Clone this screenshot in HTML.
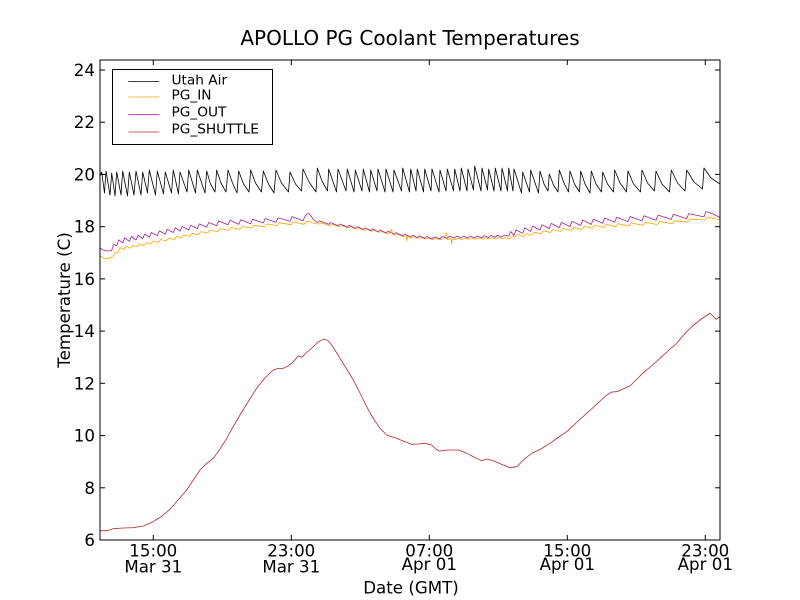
<!DOCTYPE html>
<html>
<head>
<meta charset="utf-8">
<style>
html,body{margin:0;padding:0;background:#fff;}
svg{display:block;}
text{font-family:"DejaVu Sans","Liberation Sans",sans-serif;fill:#000;}
</style>
</head>
<body>
<svg width="800" height="600" viewBox="0 0 800 600" xmlns="http://www.w3.org/2000/svg">
<rect x="0" y="0" width="800" height="600" fill="#fff"/>
<defs>
<clipPath id="ax"><rect x="100" y="60" width="620" height="480"/></clipPath>
</defs>

<g clip-path="url(#ax)" fill="none" stroke-linejoin="round">
<!-- Utah Air -->
<polyline stroke="#000" stroke-width="0.8" points="100,176 101.7,172 104.5,193 106,171 110,195 111.7,173 115,196 116.7,172 121,195 122.7,171 127.5,196 129.3,172 134,195 136,171 141,195 142.7,172 147.5,193 149.3,170 155.5,195 157.3,171 163.5,194 165.3,172 171.5,193 173.3,170 178.5,194 180,172 187,192 188.7,170 195.5,193 197.3,170 205,193 206.7,171 210.5,184 215,192 216.7,170 221,183 226,192 228,170 232.5,183 237,193 238.7,171 243.5,184 249,192 250.7,170 255.5,183 261.5,192 263.3,171 268.5,184 274,193 276,170 281.5,183 288.5,192 290,172 295.5,184 301.5,191 303,169 309,182 316,192 317.3,168 322,181 327.5,191 328.7,169 336.5,192 338,169 346,191 347.3,169 354,192 355.3,170 362,191 363.3,169 369.5,192 370.7,170 377,191 378,169 385,192 386,169 393,192 394,170 401.5,191 402.7,168 409.5,192 410.7,169 416,191 417.3,169 423.5,192 424.7,169 431,191 432,169 439,192 440,170 446,191 447.3,169 453.5,191 454.7,169 460,191 461.3,168 467,191 468,169 473.5,190 474.7,166 481,191 482,168 487.5,190 488.7,169 494,191 495.3,168 501,191 502,168 507.5,191 508.7,168 513,191 514,169 521.5,193 522.7,172 529.5,192 530.7,170 538.5,193 540,171 544,184 548,191 549.3,174 553.5,185 558,192 559.3,170 564,183 568.5,192 570,171 574.5,184 579.5,192 580.7,171 585,184 590,193 591.3,171 596,184 601.5,192 602.7,172 607.5,184 613.5,192 614.7,170 620,183 626.5,192 628,171 633.5,184 640.5,192 642,170 647.5,183 654.5,191 656,171 662,184 669.5,192 671.3,170 677.5,183 685,191 686.7,170 694,182 702.5,189 704,168 711,178 720,184"/>
<!-- PG_IN -->
<polyline stroke="#ffa500" stroke-width="0.8" points="100,256 104,258 108,259 111,257 112.7,257.5 115.2,252.6 117.7,252.8 120.2,247.7 123.7,249.6 126.2,246.5 130.3,248.2 132.8,245.2 137,246.9 139.5,243.8 143.7,245.6 146.2,242.5 150.3,244.2 152.8,241.2 158.3,242.6 160.8,239.5 166.3,241 168.8,238 174.3,239.5 176.8,236.3 181,238.1 183.5,235 189.7,236.4 192.2,233.3 198.3,234.7 200.8,231.6 207.7,233 210.2,230.2 217.7,231.6 220.2,228.7 229,230.4 231.5,227.5 239.7,229.3 242.2,226.5 251.7,228.1 254.2,225.3 264.3,226.9 266.8,224 277,225.6 279.5,222.7 291,224.8 293.5,222 304,224.3 306.5,221.7 310,221.5 313,223 318.3,224.1 320.8,222.9 329.7,225.5 332.2,224.3 339,226.6 341.5,225.5 348.3,227.9 350.8,226.8 356.3,229 358.8,228 364.3,230.2 366.8,229.2 371.7,231.4 374.2,230.3 379,232.4 381.5,231.5 387,233.7 389.5,232.8 391.7,229.5 392.5,233.5 395,235.2 397.5,234.2 403.7,236.6 406.2,235.6 406.8,241 407.5,236.5 411.7,237.8 414.2,236.7 418.3,238.3 420.8,237.4 425.7,239 428.2,238.1 433,239.7 435.5,238.4 441,239.7 443.5,238.3 446.7,233 447.2,239 448.3,239.7 450.8,238.3 451.7,244 452.3,239.2 455.7,239.6 458.2,238.3 462.3,239.5 464.8,238.2 469,239.3 471.5,238 475.7,239.2 478.2,237.9 483,239.1 485.5,237.8 489.7,239 492.2,237.7 496.3,238.9 498.8,237.6 503,238.8 505.5,237.5 509.7,239 512.2,236 515,237.5 517.5,234.3 523.7,236.6 526.2,233.5 531.7,235.3 534.2,232.3 541,233.8 543.5,230.8 550.3,232.5 552.8,229.5 560.3,231.4 562.8,228.4 571,230.4 573.5,227.4 581.7,229.4 584.2,226.4 592.3,228.3 594.8,225.4 603.7,227.4 606.2,224.4 615.7,226.7 618.2,223.7 629,226 631.5,223 643,225.3 645.5,222.3 657,224.5 659.5,221.5 672.3,223.7 674.8,220.7 687.7,222.2 690.2,219.3 705,220 707.5,217 714,218.5 720,219.5"/>
<!-- PG_OUT -->
<polyline stroke="#a020a0" stroke-width="0.8" points="100,248 103,250 107,251 111.7,250.5 113.7,244.1 116.7,245.8 118.7,239.8 122.7,242.8 124.7,237.9 129.3,241.3 131.3,236.5 136,240 138,235.2 142.7,238.7 144.7,233.9 149.3,237.3 151.3,232.5 157.3,235.7 159.3,230.9 165.3,234.1 167.3,229.3 173.3,232.5 175.3,227.7 180,231.2 182,226.5 188.7,229.9 190.7,225.2 197.3,228.6 199.3,223.9 206.7,227.2 208.7,222.5 216.7,225.7 218.7,221 228,224.8 230,220.3 238.7,224.3 240.7,219.8 250.7,223.7 252.7,219.2 263.3,223 265.3,218.5 276,222.4 278,217.9 290,221.2 292,216.6 303,220.7 305,216.6 307,214 309,213.5 311,216 313,219 317.3,222.5 319.3,220.9 328.7,224.3 330.7,222.6 338,225.7 340,224 347.3,227.1 349.3,225.4 355.3,228.3 357.3,226.6 363.3,229.5 365.3,227.8 370.7,230.6 372.7,228.9 378,231.7 380,230 386,232.9 388,231.2 394,234.2 396,232.6 402.7,235.7 404.7,234 410.7,237 412.7,235.2 417.3,237.6 419.3,235.8 424.7,238.3 426.7,236.5 432,239 434,237 440,238.7 442,236.6 447.3,238.3 449.3,236.2 454.7,238 456.7,236 461.3,238 463.3,236 468,238 470,236 474.7,238 476.7,236 482,237.8 484,235.8 488.7,237.5 490.7,235.5 495.3,237.3 497.3,235.3 502,237.1 504,235.1 508.7,236 510.7,231.5 514,235.5 516,230 522.7,233.3 524.7,227.8 530.7,231.4 532.7,226.1 540,230 542,224.7 549.3,228.6 551.3,223.4 559.3,227.6 561.3,222.4 570,226.5 572,221.3 580.7,225.4 582.7,220.2 591.3,224.4 593.3,219.2 602.7,223.2 604.7,218 614.7,222.3 616.7,217.2 628,221.6 630,216.5 642,220.9 644,215.8 656,220.2 658,215.1 671.3,219.4 673.3,214.3 686.7,218.7 688.7,213.6 704,216.9 706,211.6 712,213.5 720,217.5"/>
<!-- PG_SHUTTLE -->
<polyline stroke="#b22a2a" stroke-width="0.8" points="100,530.7 106.7,530.7 113.3,528.7 123.3,528 133.3,527.7 143.3,526 153.3,521.7 162,516 170,509.3 178,500 186.7,490 193,480.5 200,470 206,464 213.3,458.3 220,449 226.7,438.3 233,427 240,415 248,402 256.7,388.3 265,378 273.3,370 278,368.5 283.3,368.3 288,366 293.3,361.7 298.3,356 301.7,357.3 306,353 313,347 318,342 323.3,339.3 327,340 330,342.7 335,350 340,358.3 346,368 353.3,380 360,393 366.7,406.7 373,418 380,428.3 386.7,435 391,436.5 396.7,438.3 403,441 411.7,444.3 418,444 425,443.3 431.7,445 436,449 439.3,451 448,450 458.3,450 466.7,453.3 474,457 481.7,460.7 486.7,459 493.3,460.7 502,464.5 510,467.7 516.7,466.7 524,459.5 531.7,453.3 540,449.5 550,443.3 558,437.5 566.7,431.7 577,422 586.7,413.3 597,404 606.7,395 612,392 616.7,391.7 623,389 630,386 637,379 643.3,372.7 652,365.5 660,358.3 668,351 676.7,343.3 682,337 686.7,331.7 693,325.5 700,320 705,316.5 710,313.3 713,316 716,319.3 718,318 720,316.7"/>
</g>

<!-- axes frame -->
<rect x="100" y="60" width="620" height="480" fill="none" stroke="#000" stroke-width="1"/>

<!-- ticks -->
<g stroke="#000" stroke-width="1">
<line x1="153.3" y1="540" x2="153.3" y2="535"/><line x1="153.3" y1="60" x2="153.3" y2="65"/>
<line x1="291.3" y1="540" x2="291.3" y2="535"/><line x1="291.3" y1="60" x2="291.3" y2="65"/>
<line x1="429.3" y1="540" x2="429.3" y2="535"/><line x1="429.3" y1="60" x2="429.3" y2="65"/>
<line x1="567.3" y1="540" x2="567.3" y2="535"/><line x1="567.3" y1="60" x2="567.3" y2="65"/>
<line x1="705.3" y1="540" x2="705.3" y2="535"/><line x1="705.3" y1="60" x2="705.3" y2="65"/>

<line x1="100" y1="487.8" x2="105" y2="487.8"/><line x1="720" y1="487.8" x2="715" y2="487.8"/>
<line x1="100" y1="435.6" x2="105" y2="435.6"/><line x1="720" y1="435.6" x2="715" y2="435.6"/>
<line x1="100" y1="383.3" x2="105" y2="383.3"/><line x1="720" y1="383.3" x2="715" y2="383.3"/>
<line x1="100" y1="331.1" x2="105" y2="331.1"/><line x1="720" y1="331.1" x2="715" y2="331.1"/>
<line x1="100" y1="278.9" x2="105" y2="278.9"/><line x1="720" y1="278.9" x2="715" y2="278.9"/>
<line x1="100" y1="226.7" x2="105" y2="226.7"/><line x1="720" y1="226.7" x2="715" y2="226.7"/>
<line x1="100" y1="174.4" x2="105" y2="174.4"/><line x1="720" y1="174.4" x2="715" y2="174.4"/>
<line x1="100" y1="122.2" x2="105" y2="122.2"/><line x1="720" y1="122.2" x2="715" y2="122.2"/>
<line x1="100" y1="70" x2="105" y2="70"/><line x1="720" y1="70" x2="715" y2="70"/>
</g>

<!-- y tick labels -->
<g font-size="16.67" text-anchor="end">
<text x="95" y="546">6</text>
<text x="95" y="493.8">8</text>
<text x="95" y="441.6">10</text>
<text x="95" y="389.3">12</text>
<text x="95" y="337.1">14</text>
<text x="95" y="284.9">16</text>
<text x="95" y="232.7">18</text>
<text x="95" y="180.4">20</text>
<text x="95" y="128.2">22</text>
<text x="95" y="76">24</text>
</g>

<!-- x tick labels -->
<g font-size="16.67" text-anchor="middle">
<text x="153.3" y="556.5">15:00</text><text x="153.3" y="572.5">Mar 31</text>
<text x="291.3" y="556.5">23:00</text><text x="291.3" y="572.5">Mar 31</text>
<text x="429.3" y="556.5">07:00</text><text x="429.3" y="570">Apr 01</text>
<text x="567.3" y="556.5">15:00</text><text x="567.3" y="570">Apr 01</text>
<text x="705.3" y="556.5">23:00</text><text x="705.3" y="570">Apr 01</text>
</g>

<!-- axis labels & title -->
<text x="411" y="593.3" font-size="16.67" text-anchor="middle">Date (GMT)</text>
<text transform="translate(70,300) rotate(-90)" font-size="16.67" text-anchor="middle">Temperature (C)</text>
<text x="410" y="45" font-size="20" text-anchor="middle">APOLLO PG Coolant Temperatures</text>

<!-- legend -->
<rect x="112.5" y="69.5" width="160" height="75" fill="#fff" stroke="#000" stroke-width="1"/>
<line x1="128.3" y1="81.5" x2="159.3" y2="81.5" stroke="#000" stroke-width="0.8"/>
<line x1="128.3" y1="97" x2="159.3" y2="97" stroke="#ffa500" stroke-width="0.8"/>
<line x1="128.3" y1="114.5" x2="159.3" y2="114.5" stroke="#a020a0" stroke-width="0.8"/>
<line x1="128.3" y1="132" x2="159.3" y2="132" stroke="#b22a2a" stroke-width="0.8"/>
<g font-size="13.7">
<text x="171.5" y="84.5">Utah Air</text>
<text x="171.5" y="99.5">PG_IN</text>
<text x="171.5" y="116.5">PG_OUT</text>
<text x="171.5" y="133.5">PG_SHUTTLE</text>
</g>
</svg>
</body>
</html>
